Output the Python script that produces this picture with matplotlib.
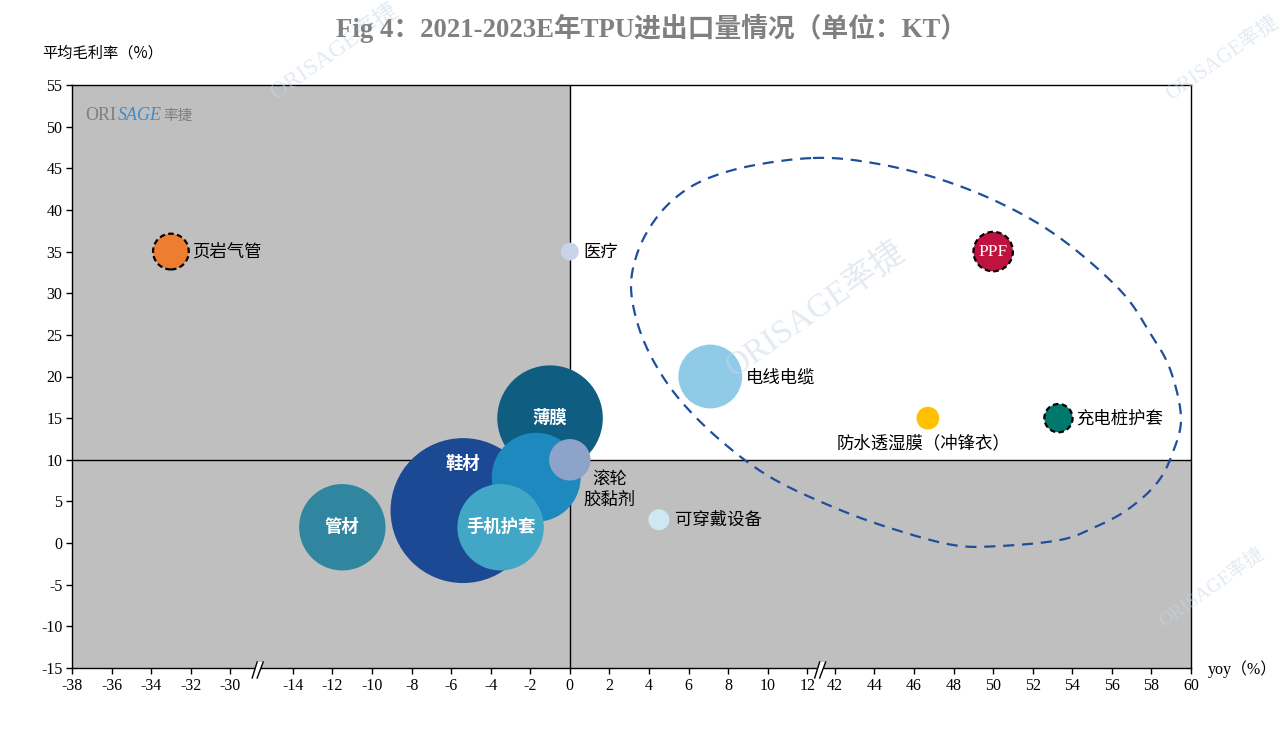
import numpy as np
import matplotlib
matplotlib.use('Agg')
import matplotlib.pyplot as plt
import matplotlib.transforms as mtransforms
from matplotlib.patches import Polygon
from matplotlib.lines import Line2D
from matplotlib.offsetbox import TextArea, HPacker, AnnotationBbox

# ---------------- data ----------------
categories = ['管材', '薄膜', '鞋材', '', '手机护套', '滚轮\n胶黏剂', '页岩气管', '医疗',
              'PPF', '电线电缆', '防水透湿膜（冲锋衣）', '充电桩护套', '可穿戴设备']
yoy = [-11.5, -1.0, -5.4, -1.7, -3.5, 0.0, -33.0, 0.0, 50.0, 7.1, 46.7, 53.3, 4.5]
margin = [1.9, 15.0, 3.9, 7.9, 1.9, 10.0, 35.0, 35.0, 35.0, 20.0, 15.0, 15.0, 2.8]
volume = [18.7, 27.9, 52.6, 19.8, 18.7, 4.3, 3.2, 0.8, 3.9, 10.2, 1.3, 2.0, 1.1]

x_ticks = [-38, -36, -34, -32, -30, -14, -12, -10, -8, -6, -4, -2, 0, 2, 4, 6, 8, 10, 12,
           42, 44, 46, 48, 50, 52, 54, 56, 58, 60]
y_ticks = list(range(-15, 56, 5))

# ---------------- styles ----------------
colors = ['#31869F', '#0F5E82', '#1B4994', '#1E89BE', '#42A6C6', '#8DA3C9', '#ED7D31',
          '#C9D3E8', '#C0123E', '#8FCAE6', '#FFC000', '#00786C', '#CDE8F2']
dashed_edge = {'页岩气管', 'PPF', '充电桩护套'}
# label placement: (dx px, dy px, ha, color)
label_pos = {
    '管材': (0, 0, 'center', 'white'),
    '薄膜': (0, 0, 'center', 'white'),
    '鞋材': (0, 47, 'center', 'white'),
    '手机护套': (0, 0, 'center', 'white'),
    '滚轮\n胶黏剂': (40, -30, 'center', 'black'),
    '页岩气管': (21, 0, 'left', 'black'),
    '医疗': (14, 0, 'left', 'black'),
    'PPF': (0, 0, 'center', 'white'),
    '电线电缆': (36, -1, 'left', 'black'),
    '防水透湿膜（冲锋衣）': (-4, -25, 'center', 'black'),
    '充电桩护套': (18, 0, 'left', 'black'),
    '可穿戴设备': (16, 0, 'left', 'black'),
}

CJK = ['Noto Sans CJK SC', 'DejaVu Sans']
SERIF_CJK = ['Liberation Serif', 'Noto Sans CJK SC', 'DejaVu Sans']

W, H = 1285, 734
L, R, T, B = 72, 1191, 85, 668
fig = plt.figure(figsize=(W / 100, H / 100), dpi=100)
ax = fig.add_axes([L / W, 1 - B / H, (R - L) / W, (B - T) / H])

# broken x axis via piecewise-linear function scale
brk_data = [-38, -30, -14, 12, 42, 60]
brk_pos = [0, 8, 11.165, 37.165, 38.565, 56.565]


def fwd(x):
    return np.interp(x, brk_data, brk_pos)


def inv(p):
    return np.interp(p, brk_pos, brk_data)


ax.set_xscale('function', functions=(fwd, inv))
ax.set_xlim(-38, 60)
ax.set_ylim(-15, 55)
ax.set_xticks(x_ticks)
ax.set_xticklabels([str(t) for t in x_ticks])
ax.set_yticks(y_ticks)
ax.set_yticklabels([str(t) for t in y_ticks])
ax.xaxis.set_minor_locator(matplotlib.ticker.NullLocator())
ax.tick_params(direction='out', length=4, width=1, color='black', pad=3,
               labelsize=11.5)
for lab in ax.get_xticklabels() + ax.get_yticklabels():
    lab.set_family('Liberation Serif')
for sp in ax.spines.values():
    sp.set_linewidth(1)
    sp.set_color('black')

# quadrant shading
ax.set_facecolor('white')
ax.axhspan(-15, 10, color='#BFBFBF', lw=0, zorder=0)
ax.fill_between([-38, 0], 10, 55, color='#BFBFBF', lw=0, zorder=0)
ax.axhline(10, color='black', lw=1, zorder=1)
ax.axvline(0, color='black', lw=1, zorder=1)

# bubbles
scale_s = 207.0
for i, name in enumerate(categories):
    if name in dashed_edge:
        ax.scatter([yoy[i]], [margin[i]], s=volume[i] * scale_s, color=colors[i],
                   edgecolors='black', linewidths=1.6, linestyle=(0, (2.5, 1.5)),
                   zorder=3 + i * 0.01)
    else:
        ax.scatter([yoy[i]], [margin[i]], s=volume[i] * scale_s, color=colors[i],
                   edgecolors='none', zorder=3 + i * 0.01)

for i, name in enumerate(categories):
    if name not in label_pos:
        continue
    dx, dy, ha, col = label_pos[name]
    if name == 'PPF':
        fam, fs, fw = ['Liberation Serif'], 12.5, 'normal'
    elif col == 'white':
        fam, fs, fw = CJK, 12.5, 'bold'
    else:
        fam, fs, fw = CJK, 12.5, 'normal'
    ax.annotate(name, (yoy[i], margin[i]), xytext=(dx, dy), textcoords='offset pixels',
                ha=ha, va='center', color=col, fontsize=fs, family=fam, fontweight=fw,
                linespacing=1.1, zorder=4)

# dashed highlight blob (annotation drawn in pixel space, converted to axes fraction)
blob_px = [(813, 158), (867, 162), (933, 177), (1000, 203), (1060, 238), (1120, 290),
           (1150, 333), (1170, 369), (1181, 417), (1173, 452), (1157, 483), (1127, 510),
           (1093, 528), (1060, 540), (1000, 546), (953, 545), (890, 528), (833, 507),
           (770, 477), (720, 440), (680, 400), (654, 362), (638, 325), (631, 287),
           (637, 254), (652, 224), (674, 199), (704, 180), (750, 166)]
P = np.array(blob_px, float)
n = len(P)
segs = []
for i in range(n):
    p0, p1, p2, p3 = P[i - 1], P[i], P[(i + 1) % n], P[(i + 2) % n]
    t = np.linspace(0, 1, 16, endpoint=False)[:, None]
    segs.append(0.5 * (2 * p1 + (-p0 + p2) * t + (2 * p0 - 5 * p1 + 4 * p2 - p3) * t ** 2
                       + (-p0 + 3 * p1 - 3 * p2 + p3) * t ** 3))
C = np.vstack(segs + [segs[0][:1]])
ax.plot((C[:, 0] - L) / (R - L), (B - C[:, 1]) / (B - T), transform=ax.transAxes,
        color='#1F4E9C', lw=1.6, linestyle=(0, (5, 3.5)), zorder=5, clip_on=False)

# axis break marks
for xb, shift in [(-22, -4), (27, -1)]:
    xd = ax.transData.transform([[xb, -15]])[0][0] + shift
    yd = H - B
    poly = [(xd - 5.4, yd - 10), (xd - 0.4, yd + 6), (xd + 5.6, yd + 6), (xd - 0.4, yd - 10)]
    fig.add_artist(Polygon(poly, closed=True, transform=mtransforms.IdentityTransform(),
                           facecolor='white', edgecolor='none', zorder=10))
    for (x0, x1) in [(xd - 5.4, xd - 0.4), (xd - 0.4, xd + 5.6)]:
        fig.add_artist(Line2D([x0, x1], [yd - 10, yd + 6],
                              transform=mtransforms.IdentityTransform(),
                              color='black', lw=1, zorder=11))

# titles / axis labels
fig.text(651 / W, 1 - 28 / H, 'Fig 4：2021-2023E年TPU进出口量情况（单位：KT）',
         ha='center', va='center', fontsize=19.3, fontweight='bold', color='#808080',
         family=SERIF_CJK)
fig.text(42 / W, 1 - 53 / H, '平均毛利率（%）', ha='left', va='center', fontsize=11,
         family=CJK)
fig.text(1208 / W, 1 - 669 / H, 'yoy（%）', ha='left', va='center', fontsize=11.5,
         family=SERIF_CJK)

# logo inside plot
logo = HPacker(children=[
    TextArea('ORI', textprops=dict(color='#7F7F7F', fontsize=13, family='Liberation Serif')),
    TextArea('SAGE', textprops=dict(color='#3E8DC9', fontsize=13, family='Liberation Serif',
                                    style='italic')),
    TextArea('率捷', textprops=dict(color='#7F7F7F', fontsize=10.5, family=CJK)),
], pad=0, sep=1, align='baseline')
ab = AnnotationBbox(logo, ((85 - L) / (R - L), (B - 115) / (B - T)), xycoords='axes fraction',
                    box_alignment=(0, 0.5), frameon=False, zorder=6)
ax.add_artist(ab)

# faint watermarks
for (px, py, fs) in [(335, 52, 17), (815, 310, 24), (1222, 58, 15), (1212, 588, 14)]:
    fig.text(px / W, 1 - py / H, 'ORISAGE率捷', rotation=35, ha='center', va='center',
             fontsize=fs, color='#C9D6E6', alpha=0.5, family=SERIF_CJK, zorder=0.5)

fig.savefig('out.png', dpi=100)
